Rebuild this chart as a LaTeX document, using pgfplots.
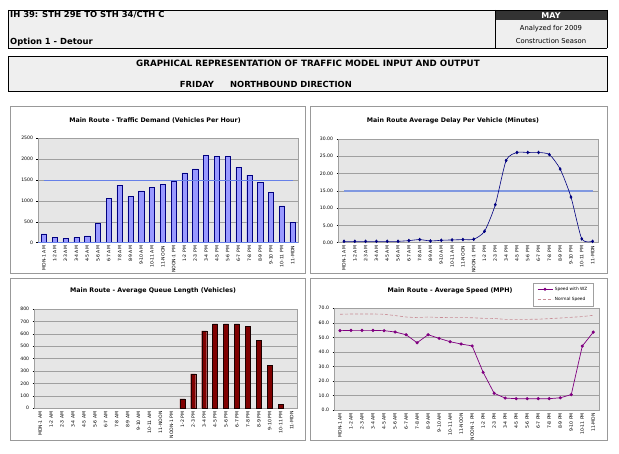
\documentclass[border=0pt]{standalone}
\usepackage{pgfplots}
\pgfplotsset{compat=1.18}
\usepackage{fontspec}
\setmainfont{DejaVu Sans}
\definecolor{plotgray}{HTML}{E6E6E6}
\definecolor{hdrgray}{HTML}{EFEFEF}
\definecolor{gridgray}{HTML}{A0A0A0}
\definecolor{demfill}{HTML}{9999FF}
\definecolor{navy}{HTML}{000080}
\definecolor{capblue}{HTML}{6680E8}
\definecolor{delblue}{HTML}{8098E0}
\definecolor{qred}{HTML}{800000}
\definecolor{spdpurple}{HTML}{800080}
\definecolor{normpink}{HTML}{C88C96}
\pgfplotsset{
  panel/.style={
    scale only axis, anchor=south west,
    xmin=-0.5, xmax=23.5,
    xtick={0,...,23},
    xticklabels={MDN-1 AM,1-2 AM,2-3 AM,3-4 AM,4-5 AM,5-6 AM,6-7 AM,7-8 AM,8-9 AM,9-10 AM,10-11 AM,11-NOON,NOON-1 PM,1-2 PM,2-3 PM,3-4 PM,4-5 PM,5-6 PM,6-7 PM,7-8 PM,8-9 PM,9-10 PM,10-11 PM,11-MDN},
    xticklabel style={rotate=90, anchor=east, font=\fontsize{4.6}{5}\selectfont, inner sep=1pt},
    yticklabel style={font=\fontsize{4.6}{5}\selectfont},
    /pgf/number format/assume math mode=true,
    /pgf/number format/set thousands separator={},
    ytick pos=left,
    ymajorgrids, grid style={gridgray, line width=0.5pt},
    axis background/.style={fill=plotgray},
    axis line style={gridgray},
    major x tick style={draw=none},
    major y tick style={black, line width=0.4pt},
    major tick length=2pt,
    tick align=outside,
    clip=false,
  }
}
\begin{document}
\begin{tikzpicture}[x=1pt,y=1pt]
\path (0,0) rectangle (619,453);
% ---- header box 1
\fill[hdrgray] (8,443) rectangle (607,405);
\fill[black!80] (495,443) rectangle (607,433);
\draw[line width=0.8pt] (8,443) -- (607,443);
\draw[line width=0.8pt] (8,405) -- (607,405);
\draw[line width=0.6pt] (8,443) -- (8,405);
\draw[line width=0.6pt] (495,443) -- (495,405);
\draw[line width=0.6pt] (607,443) -- (607,405);
\node[anchor=west, font=\bfseries\fontsize{8.4}{9}\selectfont, inner sep=0pt] at (10,438.5) {IH 39: STH 29E TO STH 34/CTH C};
\node[anchor=west, font=\bfseries\fontsize{8.4}{9}\selectfont, inner sep=0pt] at (10,411) {Option 1 - Detour};
\node[font=\bfseries\fontsize{8}{9}\selectfont, text=white, inner sep=0pt] at (551,437.8) {MAY};
\node[font=\fontsize{6.8}{7}\selectfont, inner sep=0pt] at (551,424) {Analyzed for 2009};
\node[font=\fontsize{6.8}{7}\selectfont, inner sep=0pt] at (551,412) {Construction Season};
% ---- header box 2
\fill[hdrgray] (8,397) rectangle (607,362);
\draw[line width=0.6pt] (8,397) rectangle (607,362);
\draw[line width=0.9pt] (8,362) -- (607,362);
\node[font=\bfseries\fontsize{8.7}{9}\selectfont, inner sep=0pt] at (308,389.5) {GRAPHICAL REPRESENTATION OF TRAFFIC MODEL INPUT AND OUTPUT};
\node[font=\bfseries\fontsize{8.4}{9}\selectfont, inner sep=0pt] at (197,369) {FRIDAY};
\node[font=\bfseries\fontsize{8.4}{9}\selectfont, inner sep=0pt] at (291,369) {NORTHBOUND DIRECTION};
% ---- panel frames
\draw[gray!80, line width=0.8pt] (10,347) rectangle (305,180);
\draw[gray!80, line width=0.8pt] (310,347) rectangle (607,180);
\draw[gray!80, line width=0.8pt] (10,175) rectangle (305,13);
\draw[gray!80, line width=0.8pt] (310,175) rectangle (607,13);
% ---- titles
\node[font=\bfseries\fontsize{6.3}{7}\selectfont] at (155,332) {Main Route - Traffic Demand (Vehicles Per Hour)};
\node[font=\bfseries\fontsize{6.3}{7}\selectfont] at (453,332) {Main Route Average Delay Per Vehicle (Minutes)};
\node[font=\bfseries\fontsize{6.3}{7}\selectfont] at (153,162) {Main Route - Average Queue Length (Vehicles)};
\node[font=\bfseries\fontsize{6.3}{7}\selectfont] at (450,162) {Main Route - Average Speed (MPH)};
% ---- top-left: demand
\begin{axis}[panel, at={(38.5pt,210.3pt)}, width=259.5pt, height=104.4pt,
  ymin=0, ymax=2500, ytick={0,500,...,2500}]
\addplot[ybar, bar width=5.2pt, fill=demfill, draw=navy, line width=0.4pt] coordinates {
(0,210)(1,120)(2,100)(3,120)(4,165)(5,470)(6,1070)(7,1370)(8,1110)(9,1240)(10,1330)(11,1400)
(12,1480)(13,1670)(14,1770)(15,2100)(16,2060)(17,2060)(18,1810)(19,1620)(20,1440)(21,1210)(22,880)(23,490)};
\addplot[capblue, line width=0.7pt, no marks] coordinates {(0,1500)(23,1500)};
\addplot[capblue, line width=0.9pt, no marks] coordinates {(-0.5,0)(23.5,0)};
\end{axis}
% ---- top-right: delay
\begin{axis}[panel, at={(338.6pt,210.3pt)}, width=259.4pt, height=103.7pt,
  ymin=0, ymax=30, ytick={0,5,...,30},
  yticklabel style={/pgf/number format/.cd, fixed, fixed zerofill, precision=2}]
\addplot[delblue, line width=1.4pt, no marks] coordinates {(0,15)(23,15)};
\addplot[navy, line width=0.6pt, smooth, tension=0.4, mark=diamond*, mark size=1.4pt, mark options={fill=navy}] coordinates {
(0,0.4)(1,0.4)(2,0.4)(3,0.4)(4,0.4)(5,0.4)(6,0.6)(7,0.9)(8,0.5)(9,0.7)(10,0.8)(11,0.9)
(12,1.0)(13,3.3)(14,11.0)(15,23.8)(16,26.1)(17,26.1)(18,26.1)(19,25.5)(20,21.3)(21,13.2)(22,1.1)(23,0.4)};
\end{axis}
% ---- bottom-left: queue
\begin{axis}[panel, at={(34.7pt,44.7pt)}, width=262.4pt, height=99.3pt,
  ymin=0, ymax=800, ytick={0,100,...,800}]
\addplot[ybar, bar width=5pt, fill=qred, draw=black!80!qred, line width=0.3pt] coordinates {
(13,75)(14,277)(15,623)(16,680)(17,680)(18,680)(19,663)(20,550)(21,344)(22,30)};
\end{axis}
% ---- bottom-right: speed
\begin{axis}[panel, at={(334.5pt,43pt)}, width=264.3pt, height=101.7pt,
  ymin=0, ymax=70, ytick={0,10,...,70},
  yticklabel style={/pgf/number format/.cd, fixed, fixed zerofill, precision=1},
  legend style={at={(axis description cs:0.751,1.252)}, anchor=north west,
    font=\fontsize{4.3}{4.8}\selectfont, draw=gridgray, fill=white, inner xsep=4pt, inner ysep=2pt,
    row sep=1.5pt, legend cell align=left},
  legend image code/.code={\draw[#1] (0pt,0pt) -- (15pt,0pt); \draw[#1, mark repeat=1] plot coordinates {(7.5pt,0pt)};}]
\addplot[spdpurple, line width=0.7pt, mark=*, mark size=1.2pt, mark options={fill=spdpurple}] coordinates {
(0,54.6)(1,54.8)(2,54.8)(3,54.8)(4,54.6)(5,53.7)(6,51.8)(7,46.3)(8,51.8)(9,49.3)(10,47.0)(11,45.4)
(12,44.1)(13,25.9)(14,11.5)(15,8.2)(16,7.8)(17,7.8)(18,7.8)(19,7.8)(20,8.4)(21,10.6)(22,44.0)(23,53.6)};
\addlegendentry{Speed with WZ}
\addplot[normpink, line width=0.6pt, densely dashed, no marks] coordinates {
(0,65.9)(1,66.1)(2,66.1)(3,66.1)(4,65.9)(5,65.0)(6,64.0)(7,63.6)(8,64.0)(9,63.7)(10,63.6)(11,63.6)
(12,63.5)(13,63.1)(14,63.0)(15,62.4)(16,62.4)(17,62.4)(18,62.5)(19,62.9)(20,63.3)(21,63.8)(22,64.3)(23,65.2)};
\addlegendentry{Normal Speed}
\end{axis}
\end{tikzpicture}
\end{document}
